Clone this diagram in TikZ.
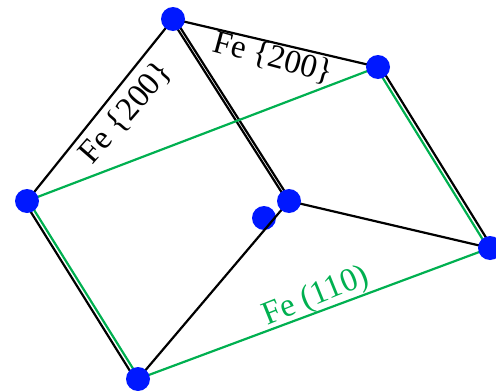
\documentclass[tikz,border=0pt]{standalone}
\usepackage{fontspec}
\setmainfont{Liberation Serif}
\definecolor{fegreen}{HTML}{00B050}
\definecolor{feblue}{HTML}{0018FF}
\tikzset{
 x=1pt,y=-1pt,
 dot/.style={circle,fill=feblue,inner sep=0pt,minimum size=24pt},
 bl/.style={draw=black,line width=2.2pt},
 gr/.style={draw=fegreen,line width=2.2pt},
 lab/.style={font=\fontsize{33}{33}\selectfont,inner sep=0pt}
}
\begin{document}
\begin{tikzpicture}
\useasboundingbox (0,0) rectangle (496,391);
\coordinate (T) at (173,19);
\coordinate (RT) at (378,67);
\coordinate (L) at (27,201);
\coordinate (B) at (138,379);
\coordinate (R) at (490,248);
\coordinate (C) at (289,201);
\node[dot] (S) at (264,218) {};
% black
\draw[bl] (L) -- (T);
\draw[bl] (T) -- (RT);
\draw[bl] ([xshift=-1.8pt]T) -- ([xshift=-1.8pt]C);
\draw[bl] ([xshift=1.8pt]T) -- ([xshift=1.8pt]C);
\draw[bl] (C) -- (R);
\draw[bl] (B) -- (C);
\draw[bl] ([xshift=-3pt]L) -- ([xshift=-3pt]B);
\draw[bl] ([xshift=2.5pt]RT) -- ([xshift=2.5pt]R);
% green
\draw[gr] (L) -- (RT);
\draw[gr] (B) -- (R);
\draw[gr] ([xshift=1.5pt]L) -- ([xshift=1.5pt]B);
\draw[gr] ([xshift=-2pt]RT) -- ([xshift=-2pt]R);
% dots
\node[dot] (nT) at (T) {};
\node[dot] (nRT) at (RT) {};
\node[dot] (nL) at (L) {};
\node[dot] (nB) at (B) {};
\node[dot] (nR) at (R) {};
\node[dot] (nC) at (C) {};
% labels
\node[lab,rotate=-15] (l1) at (273,58) {Fe \{200\}};
\node[lab,rotate=49] (l2) at (126,113) {Fe \{200\}};
\node[lab,rotate=22,text=fegreen] (l3) at (316,297) {Fe (110)};
\end{tikzpicture}
\end{document}
